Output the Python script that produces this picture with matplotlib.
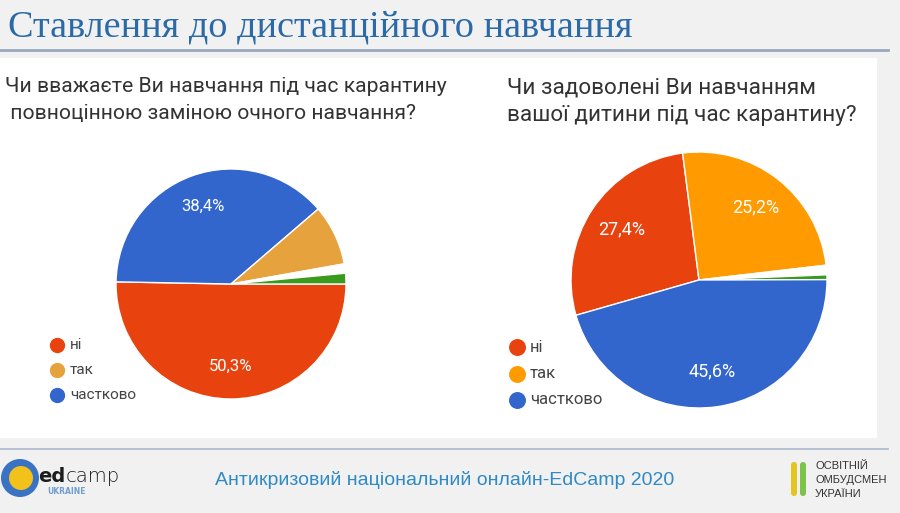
import matplotlib.pyplot as plt
import numpy as np
from matplotlib.patches import Rectangle, Circle, FancyBboxPatch

# Дані
labels = ['ні', 'так', 'частково']

# ліва діаграма (порядок секторів за годинниковою стрілкою)
q1_lines = ['Чи вважаєте Ви навчання під час карантину', ' повноцінною заміною очного навчання?']
q1_vals = [50.3, 38.4, 8.5, 1.3, 1.5]
q1_cols = ['#E8430F', '#3366CC', '#E6A23C', '#FFFFFF', '#3A9A1E']
q1_pct = ['50,3%', '38,4%', '', '', '']
q1_legend = ['#E8430F', '#E6A23C', '#3366CC']

# права діаграма
q2_lines = ['Чи задоволені Ви навчанням', 'вашої дитини під час карантину?']
q2_vals = [27.4, 25.2, 1.2, 0.6, 45.6]
q2_cols = ['#E8430F', '#FF9A00', '#FFFFFF', '#3A9A1E', '#3366CC']
q2_pct = ['27,4%', '25,2%', '', '', '45,6%']
q2_legend = ['#E8430F', '#FF9A00', '#3366CC']

title = 'Ставлення до дистанційного навчання'
footer = 'Антикризовий національний онлайн-EdCamp 2020'

W, H = 900, 513
fig = plt.figure(figsize=(W / 100, H / 100), dpi=100)
fig.patch.set_facecolor('#F1F1F1')

# фон у пікселях
bg = fig.add_axes([0, 0, 1, 1])
bg.set_xlim(0, W)
bg.set_ylim(H, 0)
bg.axis('off')

bg.text(8, 27, title, fontsize=27.5, family='Liberation Serif', color='#2B6AA6', va='center')
bg.plot([0, 888], [50, 50], color='#98A9BD', lw=2)
bg.add_patch(Rectangle((0, 58), 877, 380, facecolor='white', edgecolor='none'))
bg.plot([0, 888], [449, 449], color='#A9B8CB', lw=1.2)

for i, t in enumerate(q1_lines):
    bg.text(5, 87 + i * 26.5, t, fontsize=15.2, family='Roboto', color='#333333', va='center')
for i, t in enumerate(q2_lines):
    bg.text(507, 88 + i * 27, t, fontsize=16.2, family='Roboto', color='#333333', va='center')


def draw_pie(cx, cy, r, vals, cols, pcts, start, fs):
    ax = fig.add_axes([(cx - r) / W, (H - cy - r) / H, 2 * r / W, 2 * r / H])
    wedges, _ = ax.pie(vals, colors=cols, startangle=start, counterclock=False,
                       wedgeprops=dict(edgecolor='white', linewidth=1))
    for w, t in zip(wedges, pcts):
        if t:
            a = np.deg2rad((w.theta1 + w.theta2) / 2)
            ax.text(0.72 * np.cos(a), 0.72 * np.sin(a), t, color='white', fontsize=fs,
                    family='Roboto', ha='center', va='center')
    ax.set_xlim(-1, 1)
    ax.set_ylim(-1, 1)
    ax.axis('off')


draw_pie(231, 284, 115, q1_vals, q1_cols, q1_pct, 0, 12)
draw_pie(699, 280, 128, q2_vals, q2_cols, q2_pct, 196, 13)

# легенди
for x0, y0, dy, cols, ms, fs in [(57, 345, 25, q1_legend, 100, 11),
                                 (517, 347, 26.5, q2_legend, 125, 12)]:
    for i, (lab, c) in enumerate(zip(labels, cols)):
        bg.scatter(x0, y0 + i * dy, s=ms, color=c, zorder=3)
        bg.text(x0 + 13, y0 + i * dy, lab, fontsize=fs, family='Roboto', color='#444444',
                va='center')

# нижній колонтитул
bg.text(445, 480, footer, fontsize=14, family='Liberation Sans', color='#2F8AC6',
        ha='center', va='center')

# логотип edcamp
bg.add_patch(Circle((20, 478), 19, facecolor='#3B73C4', edgecolor='none'))
bg.add_patch(Circle((21, 478), 12, facecolor='#F2C21B', edgecolor='none'))
bg.text(65, 476, 'ed', fontsize=14, weight='bold', family='DejaVu Sans', color='#1C1C1C',
        va='center', ha='right')
bg.text(66, 476, 'camp', fontsize=14, weight='light', family='DejaVu Sans', color='#1C1C1C',
        va='center', ha='left')
bg.text(47, 491, 'UKRAINE', fontsize=5.5, weight='bold', family='DejaVu Sans',
        color='#6F9FD0', va='center')

# логотип омбудсмена
for xx, c in [(791, '#E3C51D'), (800, '#7DC24B')]:
    bg.add_patch(FancyBboxPatch((xx, 462), 6, 34, boxstyle='round,pad=0,rounding_size=3',
                                facecolor=c, edgecolor='none'))
for i, t in enumerate(['ОСВІТНІЙ', 'ОМБУДСМЕН', 'УКРАЇНИ']):
    bg.text(815, 466 + i * 14, t, fontsize=8, family='Liberation Sans', color='#333333',
            va='center')

fig.savefig('out.png', dpi=100, facecolor=fig.get_facecolor())
